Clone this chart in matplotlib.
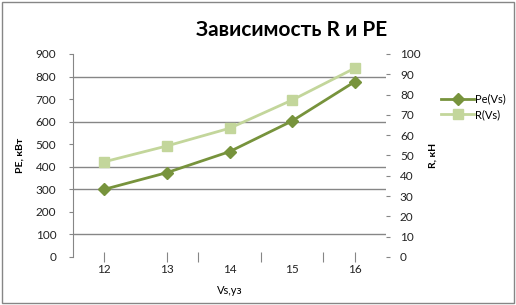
import numpy as np
import matplotlib.pyplot as plt
from matplotlib.patches import Rectangle

# data
vs = [12, 13, 14, 15, 16]
pe = [300, 374, 467, 603, 777]
r_vals = [46.9, 54.7, 63.4, 77.3, 93.0]

left_ticks = [0, 100, 200, 300, 400, 500, 600, 700, 800, 900]
right_ticks = [0, 10, 20, 30, 40, 50, 60, 70, 80, 90, 100]
grid_levels = [100, 300, 400, 600, 800]
x_tick_marks = [12, 13, 13.5, 14.5, 15.5, 16]

plt.rcParams['font.family'] = ['Lato', 'DejaVu Sans']

fig = plt.figure(figsize=(5.16, 3.05), dpi=100)
ax = fig.add_axes([0.1415, 0.1574, 0.6066, 0.6656])
ax2 = ax.twinx()

c_pe = '#77933C'
c_r = '#C3D69B'
grey = '#868686'

ax.hlines(grid_levels, 11.5, 16.5, color=grey, linewidth=1, zorder=0)

ax.plot(vs, pe, color=c_pe, marker='D', markersize=6, linewidth=2, label='Pe(Vs)', zorder=3)
ax2.plot(vs, r_vals, color=c_r, marker='s', markersize=7, linewidth=2, label='R(Vs)', zorder=3)

ax.set_xlim(11.5, 16.5)
ax.set_ylim(0, 900)
ax2.set_ylim(0, 100)

ax.set_yticks(left_ticks)
ax.set_yticklabels([str(t) for t in left_ticks], fontsize=8.5)
ax2.set_yticks(right_ticks)
ax2.set_yticklabels([str(t) for t in right_ticks], fontsize=8.5)

ax.set_xticks(x_tick_marks)
ax.set_xticklabels(['' for t in x_tick_marks])
for v in vs:
    ax.text(v, -0.06, str(v), transform=ax.get_xaxis_transform(),
            ha='center', va='center', fontsize=8.5, color='#222222')

for a in (ax, ax2):
    for s in a.spines.values():
        s.set_visible(False)
ax.spines['left'].set_visible(True)
ax.spines['left'].set_color(grey)

ax.tick_params(axis='y', length=3, color=grey, pad=9, labelcolor='#222222')
ax.tick_params(axis='x', direction='inout', length=7, color=grey)
ax2.tick_params(axis='y', length=3, color=grey, pad=7, labelcolor='#222222')

ax.set_ylabel('PE, кВт', fontsize=7.5, fontweight='bold', labelpad=8)
ax2.set_ylabel('R, кН', fontsize=7.5, fontweight='bold', labelpad=6)
ax.set_xlabel('Vs,уз', fontsize=8, labelpad=13)

fig.text(0.565, 0.9, 'Зависимость R и PE', ha='center', va='center',
         fontsize=15, fontweight='bold')

h1, l1 = ax.get_legend_handles_labels()
h2, l2 = ax2.get_legend_handles_labels()
fig.legend(h1 + h2, l1 + l2, loc='center left', bbox_to_anchor=(0.835, 0.65),
           frameon=False, fontsize=8, handlelength=3, handletextpad=0.1,
           labelspacing=0.4)

fig.patches.append(Rectangle((0.003, 0.005), 0.994, 0.99, transform=fig.transFigure,
                             fill=False, edgecolor=grey, linewidth=1))

plt.savefig('out.png', dpi=100)
